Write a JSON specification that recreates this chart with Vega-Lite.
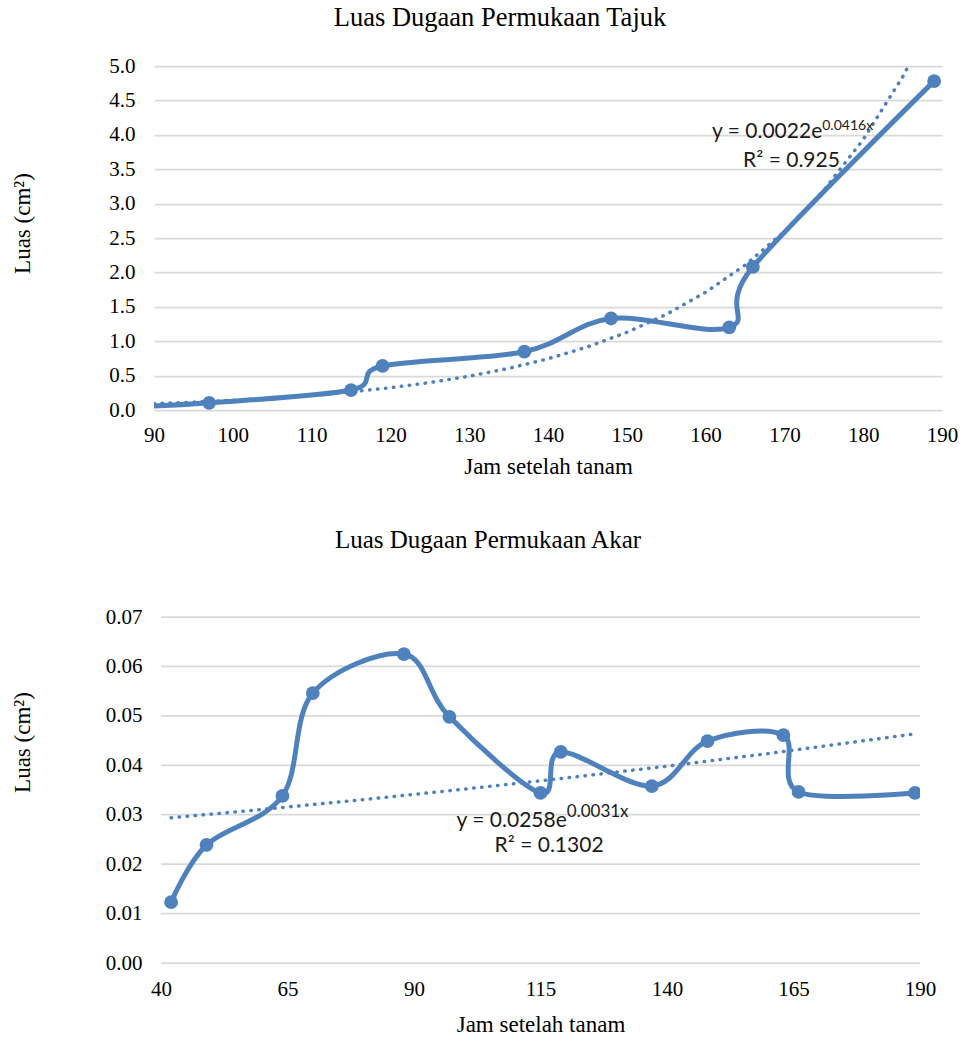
{
  "$schema": "https://vega.github.io/schema/vega-lite/v6.json",
  "background": "white",
  "padding": {"left": 11, "top": 4, "right": 5, "bottom": 5},
  "spacing": 50,
  "config": {
    "font": "Liberation Serif",
    "view": {"stroke": null},
    "title": {"font": "Liberation Serif", "fontSize": 25, "fontWeight": "normal", "color": "#000000"},
    "style": {
      "guide-label": {"font": "Liberation Serif", "fontSize": 21, "fill": "#000000"},
      "guide-title": {"font": "Liberation Serif", "fontSize": 23, "fontWeight": "normal", "fill": "#000000"}
    },
    "axis": {
      "labelFont": "Liberation Serif", "labelFontSize": 21, "labelColor": "#000000",
      "titleFont": "Liberation Serif", "titleFontSize": 23, "titleFontWeight": "normal", "titleColor": "#000000",
      "ticks": false, "domain": false, "gridColor": "#d9d9d9", "gridWidth": 1.75,
      "labelFlush": false, "labelOverlap": false
    }
  },
  "datasets": {
    "tajuk": [
      {"jam": 88, "luas": 0.05},
      {"jam": 97, "luas": 0.105},
      {"jam": 115, "luas": 0.29},
      {"jam": 119, "luas": 0.64},
      {"jam": 137, "luas": 0.847},
      {"jam": 148, "luas": 1.33},
      {"jam": 163, "luas": 1.2},
      {"jam": 166, "luas": 2.08},
      {"jam": 189, "luas": 4.78}
    ],
    "tajukTrend": [
      {"jam": 90, "luas": 0.093}, {"jam": 95, "luas": 0.114}, {"jam": 100, "luas": 0.141},
      {"jam": 105, "luas": 0.174}, {"jam": 110, "luas": 0.214}, {"jam": 115, "luas": 0.263},
      {"jam": 120, "luas": 0.324}, {"jam": 125, "luas": 0.399}, {"jam": 130, "luas": 0.491},
      {"jam": 135, "luas": 0.605}, {"jam": 140, "luas": 0.744}, {"jam": 145, "luas": 0.917},
      {"jam": 150, "luas": 1.128}, {"jam": 155, "luas": 1.389}, {"jam": 160, "luas": 1.711},
      {"jam": 165, "luas": 2.106}, {"jam": 170, "luas": 2.593}, {"jam": 175, "luas": 3.193},
      {"jam": 180, "luas": 3.931}, {"jam": 185, "luas": 4.84}, {"jam": 189, "luas": 5.716}
    ],
    "tajukEq": [{"jam": 174.8, "luas": 3.955, "label": "y = 0.0022e"}],
    "tajukSup": [{"jam": 174.8, "luas": 4.066, "label": "0.0416x"}],
    "tajukR2": [{"jam": 170.9, "luas": 3.537, "label": "R² = 0.925"}],
    "akar": [
      {"jam": 42, "luas": 0.0123},
      {"jam": 49, "luas": 0.0239},
      {"jam": 64, "luas": 0.0338},
      {"jam": 70, "luas": 0.0546},
      {"jam": 88, "luas": 0.0625},
      {"jam": 97, "luas": 0.0498},
      {"jam": 115, "luas": 0.0344},
      {"jam": 119, "luas": 0.0427},
      {"jam": 137, "luas": 0.0358},
      {"jam": 148, "luas": 0.0449},
      {"jam": 163, "luas": 0.0461},
      {"jam": 166, "luas": 0.0346},
      {"jam": 189, "luas": 0.0344}
    ],
    "akarGrid": [
      {"luas": 0, "jam": 40, "jamEnd": 190}, {"luas": 0.01, "jam": 40, "jamEnd": 190},
      {"luas": 0.02, "jam": 40, "jamEnd": 190}, {"luas": 0.03, "jam": 40, "jamEnd": 190},
      {"luas": 0.04, "jam": 40, "jamEnd": 190}, {"luas": 0.05, "jam": 40, "jamEnd": 190},
      {"luas": 0.06, "jam": 40, "jamEnd": 190}, {"luas": 0.07, "jam": 40, "jamEnd": 190}
    ],
    "akarTrend": [
      {"jam": 42, "luas": 0.02939}, {"jam": 60, "luas": 0.03107}, {"jam": 80, "luas": 0.03306},
      {"jam": 100, "luas": 0.03518}, {"jam": 120, "luas": 0.03743}, {"jam": 140, "luas": 0.03982},
      {"jam": 160, "luas": 0.04237}, {"jam": 189, "luas": 0.04636}
    ],
    "akarEq": [{"jam": 120.2, "luas": 0.02751, "label": "y = 0.0258e"}],
    "akarSup": [{"jam": 120.2, "luas": 0.02954, "label": "0.0031x"}],
    "akarR2": [{"jam": 116.7, "luas": 0.02246, "label": "R² = 0.1302"}]
  },
  "vconcat": [
    {
      "width": 788,
      "height": 344,
      "title": {"text": "Luas Dugaan Permukaan Tajuk", "offset": 24, "dx": -48, "fontSize": 26.5, "font": "Liberation Serif"},
      "encoding": {
        "x": {
          "field": "jam", "type": "quantitative",
          "scale": {"domain": [90, 190], "nice": false, "zero": false},
          "axis": {"title": "Jam setelah tanam", "values": [90, 100, 110, 120, 130, 140, 150, 160, 170, 180, 190], "grid": false, "labelPadding": 14, "titlePadding": 10, "labelFont": "Liberation Serif", "titleFont": "Liberation Serif"}
        },
        "y": {
          "field": "luas", "type": "quantitative",
          "scale": {"domain": [0, 5], "nice": false},
          "axis": {"title": "Luas (cm²)", "values": [0, 0.5, 1, 1.5, 2, 2.5, 3, 3.5, 4, 4.5, 5], "format": ".1f", "labelPadding": 19, "titleX": -120, "titleY": 157, "labelFont": "Liberation Serif", "titleFont": "Liberation Serif"}
        }
      },
      "layer": [
        {"data": {"name": "tajukTrend"}, "mark": {"type": "line", "clip": true, "color": "#4f81bd", "strokeWidth": 3.5, "strokeDash": [0.5, 7.5], "strokeCap": "round"}},
        {"data": {"name": "tajuk"}, "mark": {"type": "line", "clip": true, "interpolate": "cardinal", "color": "#4f81bd", "strokeWidth": 5}},
        {"data": {"name": "tajuk"}, "mark": {"type": "circle", "clip": true, "color": "#4f81bd", "opacity": 1, "size": 190}},
        {"data": {"name": "tajukEq"}, "mark": {"type": "text", "align": "right", "baseline": "alphabetic", "font": "Lato", "fontSize": 21, "color": "#1a1a1a"}, "encoding": {"text": {"field": "label"}}},
        {"data": {"name": "tajukSup"}, "mark": {"type": "text", "align": "left", "baseline": "alphabetic", "font": "Lato", "fontSize": 14, "color": "#1a1a1a"}, "encoding": {"text": {"field": "label"}}},
        {"data": {"name": "tajukR2"}, "mark": {"type": "text", "align": "center", "baseline": "alphabetic", "font": "Lato", "fontSize": 21, "color": "#1a1a1a"}, "encoding": {"text": {"field": "label"}}}
      ]
    },
    {
      "width": 766,
      "height": 346,
      "title": {"text": "Luas Dugaan Permukaan Akar", "offset": 53, "dx": -49, "font": "Liberation Serif"},
      "encoding": {
        "x": {
          "field": "jam", "type": "quantitative",
          "scale": {"domain": [40, 190], "nice": false, "zero": false, "range": [7, 766]},
          "axis": {"title": "Jam setelah tanam", "values": [40, 65, 90, 115, 140, 165, 190], "grid": false, "labelPadding": 15, "titlePadding": 14, "labelFont": "Liberation Serif", "titleFont": "Liberation Serif"}
        },
        "y": {
          "field": "luas", "type": "quantitative",
          "scale": {"domain": [0, 0.07], "nice": false},
          "axis": {"title": "Luas (cm²)", "values": [0, 0.01, 0.02, 0.03, 0.04, 0.05, 0.06, 0.07], "format": ".2f", "grid": false, "labelPadding": 12, "titleX": -120, "titleY": 125, "labelFont": "Liberation Serif", "titleFont": "Liberation Serif"}
        }
      },
      "layer": [
        {"data": {"name": "akarGrid"}, "mark": {"type": "rule", "color": "#d9d9d9", "strokeWidth": 1.75}, "encoding": {"x2": {"field": "jamEnd"}}},
        {"data": {"name": "akarTrend"}, "mark": {"type": "line", "clip": true, "color": "#4f81bd", "strokeWidth": 3.5, "strokeDash": [0.5, 7.5], "strokeCap": "round"}},
        {"data": {"name": "akar"}, "mark": {"type": "line", "clip": true, "interpolate": "cardinal", "color": "#4f81bd", "strokeWidth": 5}},
        {"data": {"name": "akar"}, "mark": {"type": "circle", "clip": true, "color": "#4f81bd", "opacity": 1, "size": 190}},
        {"data": {"name": "akarEq"}, "mark": {"type": "text", "align": "right", "baseline": "alphabetic", "font": "Lato", "fontSize": 21, "color": "#1a1a1a"}, "encoding": {"text": {"field": "label"}}},
        {"data": {"name": "akarSup"}, "mark": {"type": "text", "align": "left", "baseline": "alphabetic", "font": "Lato", "fontSize": 17, "color": "#1a1a1a"}, "encoding": {"text": {"field": "label"}}},
        {"data": {"name": "akarR2"}, "mark": {"type": "text", "align": "center", "baseline": "alphabetic", "font": "Lato", "fontSize": 21, "color": "#1a1a1a"}, "encoding": {"text": {"field": "label"}}}
      ]
    }
  ]
}
